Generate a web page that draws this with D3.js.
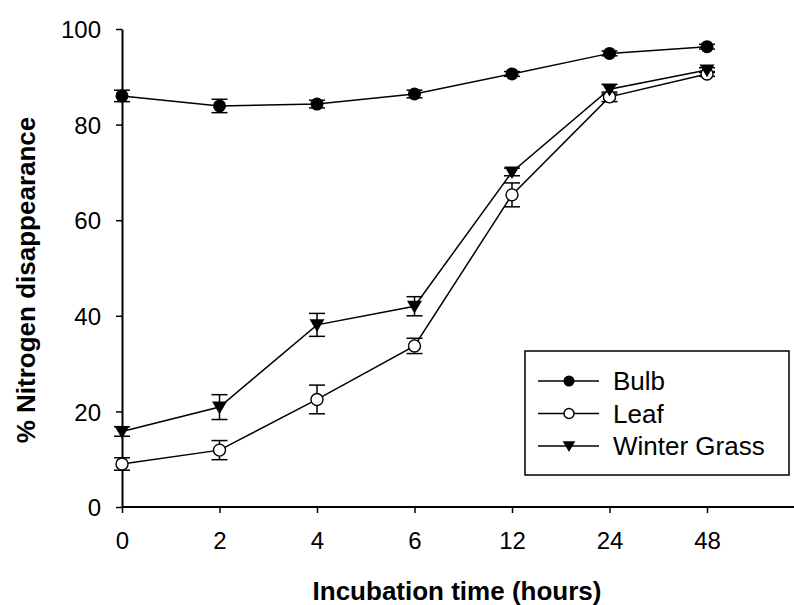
<!DOCTYPE html>
<html>
<head>
<meta charset="utf-8">
<script src="https://cdn.jsdelivr.net/npm/d3@7"></script>
<style>
  body { margin: 0; background: #fff; }
  svg { font-family: 'Liberation Sans', Arial, sans-serif; }
</style>
</head>
<body>
<svg id="chart" width="794" height="605"></svg>
<script>
// incubation times (categorical, evenly spaced)
const hours = ['0', '2', '4', '6', '12', '24', '48'];
const yTicks = [0, 20, 40, 60, 80, 100];

const bulb = [86.0, 83.9, 84.3, 86.4, 90.6, 94.9, 96.3];
const bulbErr = [1.2, 1.4, 0.8, 0.8, 0.5, 0.5, 0.5];
const leaf = [9.0, 11.9, 22.5, 33.7, 65.3, 85.8, 90.6];
const leafErr = [1.3, 2.0, 3.0, 1.6, 2.5, 1.0, 0.5];
const grass = [15.8, 20.9, 38.1, 42.0, 70.1, 87.4, 91.4];
const grassErr = [1.0, 2.6, 2.4, 2.0, 0.8, 1.0, 0.5];

const series = [
  { name: 'Bulb', values: bulb, err: bulbErr, marker: 'filled' },
  { name: 'Leaf', values: leaf, err: leafErr, marker: 'open' },
  { name: 'Winter Grass', values: grass, err: grassErr, marker: 'triangle' },
];

const svg = d3.select('#chart');
const width = +svg.attr('width');
const plotLeft = 122;
const plotTop = 29;
const plotBottom = 507;
const font = "'Liberation Sans', Arial, sans-serif";

const x = d3.scalePoint().domain(hours).range([plotLeft, plotLeft + 97.5 * 6]);
const y = d3.scaleLinear().domain([0, 100]).range([plotBottom, plotTop]);

// axes
const xAxisG = svg.append('g')
  .attr('transform', `translate(0,${plotBottom})`)
  .call(d3.axisBottom(x).tickSize(6).tickSizeOuter(0).tickPadding(0));
xAxisG.select('.domain').remove();
xAxisG.append('line')
  .attr('x1', plotLeft).attr('x2', width)
  .attr('stroke', '#000').attr('stroke-width', 2);
xAxisG.selectAll('.tick line').attr('stroke-width', 1.5);
xAxisG.selectAll('text')
  .attr('y', 42).attr('dy', null)
  .attr('font-size', 24).attr('fill', '#000')
  .style('font-family', font);

const yAxisG = svg.append('g')
  .attr('transform', `translate(${plotLeft},0)`)
  .call(d3.axisLeft(y).tickValues(yTicks).tickSize(6).tickSizeOuter(0).tickPadding(15));
yAxisG.select('.domain').attr('stroke-width', 2);
yAxisG.selectAll('.tick line').attr('stroke-width', 1.5);
yAxisG.selectAll('text')
  .attr('dy', '0.36em')
  .attr('font-size', 24).attr('fill', '#000')
  .style('font-family', font);

// axis titles
svg.append('text')
  .attr('x', 457).attr('y', 600)
  .attr('text-anchor', 'middle')
  .attr('font-size', 26).attr('font-weight', 'bold')
  .text('Incubation time (hours)');

svg.append('text')
  .attr('transform', `translate(35,280) rotate(-90)`)
  .attr('text-anchor', 'middle')
  .attr('font-size', 26).attr('font-weight', 'bold')
  .text('% Nitrogen disappearance');

function drawMarker(g, type, size) {
  if (type === 'triangle') {
    const hw = size * 1.15;
    g.append('path')
      .attr('d', `M${-hw},${-size * 0.85}L${hw},${-size * 0.85}L0,${size * 1.1}Z`)
      .attr('fill', '#000');
  } else {
    g.append('circle')
      .attr('r', type === 'filled' ? size : size - 0.5)
      .attr('fill', type === 'filled' ? '#000' : '#fff')
      .attr('stroke', '#000')
      .attr('stroke-width', type === 'filled' ? 0 : 1.4);
  }
}

const line = d3.line()
  .x((d, i) => x(hours[i]))
  .y((d) => y(d));

// error bars
series.forEach((s) => {
  const eg = svg.append('g').attr('stroke', '#000').attr('stroke-width', 1.5);
  s.values.forEach((v, i) => {
    const cx = x(hours[i]);
    const y1 = y(v + s.err[i]);
    const y2 = y(v - s.err[i]);
    eg.append('line').attr('x1', cx).attr('x2', cx).attr('y1', y1).attr('y2', y2);
    eg.append('line').attr('x1', cx - 8).attr('x2', cx + 8).attr('y1', y1).attr('y2', y1);
    eg.append('line').attr('x1', cx - 8).attr('x2', cx + 8).attr('y1', y2).attr('y2', y2);
  });
});

// lines
series.forEach((s) => {
  svg.append('path')
    .datum(s.values)
    .attr('d', line)
    .attr('fill', 'none')
    .attr('stroke', '#000')
    .attr('stroke-width', 1.5);
});

// markers
series.forEach((s) => {
  s.values.forEach((v, i) => {
    const g = svg.append('g').attr('transform', `translate(${x(hours[i])},${y(v)})`);
    drawMarker(g, s.marker, 6.5);
  });
});

// legend
const legend = svg.append('g');
legend.append('rect')
  .attr('x', 525).attr('y', 351)
  .attr('width', 264).attr('height', 124)
  .attr('fill', '#fff').attr('stroke', '#000').attr('stroke-width', 1.5);

series.forEach((s, i) => {
  const ly = 381 + i * 32.5;
  const g = legend.append('g');
  g.append('line')
    .attr('x1', 538).attr('x2', 599).attr('y1', ly).attr('y2', ly)
    .attr('stroke', '#000').attr('stroke-width', 1.5);
  const m = g.append('g').attr('transform', `translate(569,${ly})`);
  drawMarker(m, s.marker, 5.5);
  g.append('text')
    .attr('x', 613).attr('y', ly + 9)
    .attr('font-size', 26)
    .text(s.name);
});
</script>
</body>
</html>
